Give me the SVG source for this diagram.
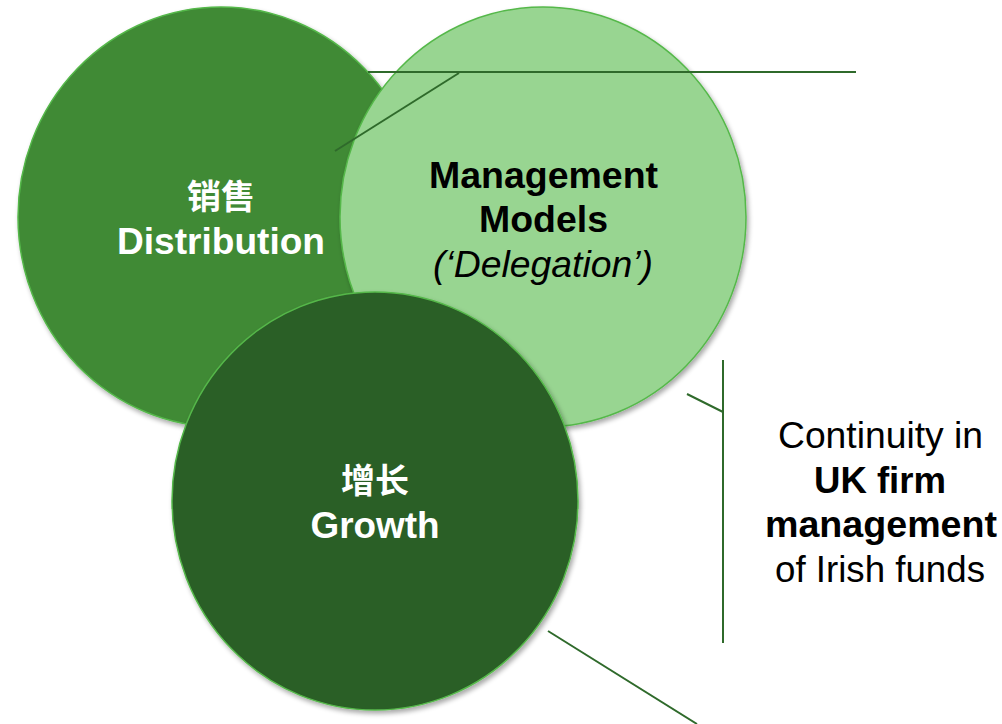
<svg xmlns="http://www.w3.org/2000/svg" width="1002" height="724" viewBox="0 0 1002 724">
  <defs>
    <filter id="shadow" x="-10%" y="-10%" width="125%" height="125%">
      <feGaussianBlur in="SourceAlpha" stdDeviation="2.5"/>
      <feOffset dx="2" dy="3" result="b"/>
      <feComponentTransfer><feFuncA type="linear" slope="0.35"/></feComponentTransfer>
      <feMerge><feMergeNode/><feMergeNode in="SourceGraphic"/></feMerge>
    </filter>
  </defs>
  <style>
    .circle { stroke: #55b84a; stroke-width: 1.5; filter: url(#shadow); }
    .lbl { font-family: "Liberation Sans", Arial, "Noto Sans CJK SC", sans-serif; font-size: 36px; text-anchor: middle; }
    .cjk { font-family: "Noto Sans CJK SC", "Liberation Sans", sans-serif; font-size: 34px; font-weight: bold; text-anchor: middle; fill: #ffffff; }
    .w { fill: #ffffff; font-weight: bold; }
    .b { fill: #000000; font-weight: bold; }
    .k { fill: #000000; }
    .it { fill: #000000; font-style: italic; }
    .conn { stroke: #2f6a2b; stroke-width: 2; fill: none; }
  </style>
  <rect width="1002" height="724" fill="#ffffff"/>
  <g id="distribution">
    <ellipse class="circle" cx="221" cy="217" rx="203" ry="210" fill="#3f8a36"/>
    <text class="cjk" x="221" y="209">销售</text>
    <text class="lbl w" x="221" y="254" textLength="208" lengthAdjust="spacingAndGlyphs">Distribution</text>
  </g>
  <g id="management-models">
    <ellipse class="circle" cx="543" cy="217" rx="203" ry="210" fill="#98d591"/>
    <text class="lbl b" x="543.5" y="188" textLength="229" lengthAdjust="spacingAndGlyphs">Management</text>
    <text class="lbl b" x="543.5" y="232" textLength="129" lengthAdjust="spacingAndGlyphs">Models</text>
    <text class="lbl it" x="543" y="277" textLength="220" lengthAdjust="spacingAndGlyphs">(‘Delegation’)</text>
  </g>
  <g id="growth">
    <ellipse class="circle" cx="375" cy="501" rx="203" ry="209" fill="#2b5e27"/>
    <text class="cjk" x="375" y="493">增长</text>
    <text class="lbl w" x="375" y="538" textLength="129" lengthAdjust="spacingAndGlyphs">Growth</text>
  </g>
  <g id="continuity">
    <text class="lbl k" x="880.5" y="448" textLength="205" lengthAdjust="spacingAndGlyphs">Continuity in</text>
    <text class="lbl b" x="880" y="492.5" textLength="132" lengthAdjust="spacingAndGlyphs">UK firm</text>
    <text class="lbl b" x="881" y="537" textLength="232" lengthAdjust="spacingAndGlyphs">management</text>
    <text class="lbl k" x="880" y="581.5" textLength="210" lengthAdjust="spacingAndGlyphs">of Irish funds</text>
  </g>
  <g id="connectors">
    <line class="conn" x1="368" y1="72" x2="856" y2="72"/>
    <line class="conn" x1="335" y1="151" x2="459" y2="73"/>
    <line class="conn" x1="723" y1="360" x2="723" y2="643"/>
    <line class="conn" x1="687" y1="394" x2="723" y2="412"/>
    <line class="conn" x1="548" y1="631" x2="697" y2="724"/>
  </g>
</svg>
